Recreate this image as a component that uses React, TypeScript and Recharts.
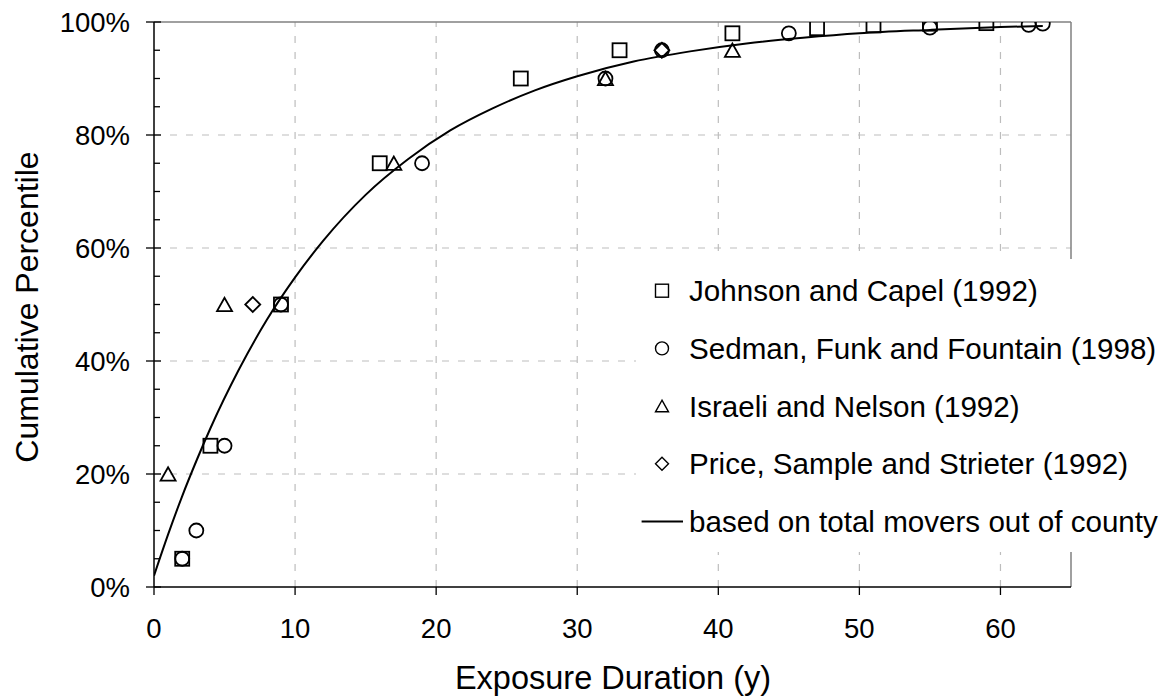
import React from 'react';
import { ComposedChart, XAxis, YAxis, Scatter, Line, ReferenceLine, Legend, Label } from 'recharts';

// values
const xTicks = [0, 10, 20, 30, 40, 50, 60];
const yTicks = [0, 5, 10, 15, 20, 25, 30, 35, 40, 45, 50, 55, 60, 65, 70, 75, 80, 85, 90, 95, 100];
const xGrid = [10, 20, 30, 40, 50, 60];
const yGrid = [20, 40, 60, 80];

const johnsonCapel = [[2, 5], [4, 25], [9, 50], [16, 75], [26, 90], [33, 95], [41, 98], [47, 98.9], [51, 99.4], [55, 99.7], [59, 99.8]];
const sedman = [[2, 5], [3, 10], [5, 25], [9, 50], [19, 75], [32, 90], [36, 95], [45, 98], [55, 99], [62, 99.5], [63, 99.7]];
const israeli = [[1, 20], [5, 50], [17, 75], [32, 90], [41, 95]];
const price = [[7, 50], [36, 95]];
const totalMovers = [
  [0, 2], [1, 9.3], [2, 16.1], [3, 22.3], [4, 28.1], [6, 38.4], [8, 47.3], [10, 54.8], [12, 61.3], [15, 69.4],
  [18, 75.7], [21, 80.8], [24, 84.7], [27, 87.9], [30, 90.4], [34, 93], [38, 94.8], [42, 96.2], [46, 97.2],
  [50, 98], [55, 98.6], [60, 99.1], [63, 99.3],
];

const toPts = (arr: number[][]) => arr.map(([x, y]) => ({ x, y }));

const FONT = '"Liberation Sans", Arial, sans-serif';

const Square = ({ cx, cy, s = 7, w = 1.8 }: any) => (
  <rect x={cx - s} y={cy - s} width={s * 2} height={s * 2} fill="none" stroke="#000" strokeWidth={w} />
);
const Circle = ({ cx, cy, s = 7, w = 1.8 }: any) => <circle cx={cx} cy={cy} r={s} fill="none" stroke="#000" strokeWidth={w} />;
const Triangle = ({ cx, cy, s = 7.5, w = 1.8 }: any) => (
  <polygon points={`${cx},${cy - s * 0.9} ${cx - s},${cy + s * 0.88} ${cx + s},${cy + s * 0.88}`} fill="none" stroke="#000" strokeWidth={w} />
);
const Diamond = ({ cx, cy, s = 7.5, w = 1.8 }: any) => (
  <polygon points={`${cx},${cy - s} ${cx + s},${cy} ${cx},${cy + s} ${cx - s},${cy}`} fill="none" stroke="#000" strokeWidth={w} />
);

const legendItems = [
  { name: 'Johnson and Capel (1992)', Shape: Square },
  { name: 'Sedman, Funk and Fountain (1998)', Shape: Circle },
  { name: 'Israeli and Nelson (1992)', Shape: Triangle },
  { name: 'Price, Sample and Strieter (1992)', Shape: Diamond },
  { name: 'based on total movers out of county', Shape: null },
];

const LegendBox = () => (
  <svg width={528} height={293} style={{ display: 'block' }}>
    {legendItems.map((it, i) => {
      const cy = 31.7 + i * 57.7;
      const S = it.Shape;
      return (
        <g key={it.name}>
          {S ? <S cx={26} cy={cy} s={6.5} w={1.4} /> : <line x1={5.6} x2={47} y1={cy} y2={cy} stroke="#000" strokeWidth={1.8} />}
          <text x={53} y={cy + 10.6} fontSize={29.6} fontFamily={FONT} fill="#000">
            {it.name}
          </text>
        </g>
      );
    })}
  </svg>
);

const YTick = ({ x, y, payload }: any) => {
  const major = payload.value % 20 === 0;
  return (
    <g>
      <line x1={major ? x - 8 : x} x2={major ? x + 7 : x + 6} y1={y} y2={y} stroke="#000" strokeWidth={1.3} />
      {major && (
        <text x={x - 24} y={y + 9.8} textAnchor="end" fontSize={27.5} fontFamily={FONT} fill="#000">
          {payload.value}%
        </text>
      )}
    </g>
  );
};

const XTick = ({ x, y, payload }: any) => (
  <g>
    <line x1={x} x2={x} y1={y} y2={y + 8} stroke="#000" strokeWidth={1.3} />
    <text x={x} y={y + 51} textAnchor="middle" fontSize={27.5} fontFamily={FONT} fill="#000">
      {payload.value}
    </text>
  </g>
);

export default function App() {
  return (
    <div style={{ position: 'absolute', left: 0, top: 0, width: 1164, height: 700, background: '#fff', fontFamily: FONT }}>
      <ComposedChart width={1164} height={700} margin={{ top: 22, right: 93, bottom: 0, left: 0 }}>
        <XAxis
          type="number"
          dataKey="x"
          domain={[0, 65]}
          ticks={xTicks}
          interval={0}
          allowDataOverflow
          height={113}
          tickSize={0}
          tickMargin={0}
          tick={<XTick />}
          axisLine={{ stroke: '#000', strokeWidth: 1.5 }}
        >
          <Label
            content={() => (
              <text x={613} y={689} textAnchor="middle" fontSize={32.5} fontFamily={FONT} fill="#000">
                Exposure Duration (y)
              </text>
            )}
          />
        </XAxis>
        <YAxis
          type="number"
          dataKey="y"
          domain={[0, 100]}
          ticks={yTicks}
          interval={0}
          allowDataOverflow
          width={154}
          tickSize={0}
          tickMargin={0}
          tick={<YTick />}
          axisLine={{ stroke: '#000', strokeWidth: 1.5 }}
        >
          <Label
            content={() => (
              <text x={38} y={307} transform="rotate(-90 38 307)" textAnchor="middle" fontSize={32} fontFamily={FONT} fill="#000">
                Cumulative Percentile
              </text>
            )}
          />
        </YAxis>
        {xGrid.map((v) => (
          <ReferenceLine key={'gx' + v} x={v} stroke="#bdbdbd" strokeDasharray="7 9" strokeWidth={1.2} />
        ))}
        {yGrid.map((v) => (
          <ReferenceLine key={'gy' + v} y={v} stroke="#bdbdbd" strokeDasharray="7 9" strokeWidth={1.2} />
        ))}
        <ReferenceLine y={100} stroke="#808080" strokeWidth={1.5} />
        <ReferenceLine x={65} stroke="#808080" strokeWidth={1.5} />
        <Line
          data={toPts(totalMovers)}
          dataKey="y"
          type="monotone"
          stroke="#000"
          strokeWidth={2}
          dot={false}
          activeDot={false}
          isAnimationActive={false}
          name="based on total movers out of county"
        />
        <Scatter data={toPts(johnsonCapel)} name="Johnson and Capel (1992)" shape={(p: any) => <Square cx={p.cx} cy={p.cy} />} isAnimationActive={false} />
        <Scatter data={toPts(sedman)} name="Sedman, Funk and Fountain (1998)" shape={(p: any) => <Circle cx={p.cx} cy={p.cy} />} isAnimationActive={false} />
        <Scatter data={toPts(israeli)} name="Israeli and Nelson (1992)" shape={(p: any) => <Triangle cx={p.cx} cy={p.cy} />} isAnimationActive={false} />
        <Scatter data={toPts(price)} name="Price, Sample and Strieter (1992)" shape={(p: any) => <Diamond cx={p.cx} cy={p.cy} />} isAnimationActive={false} />
        <Legend
          layout="vertical"
          align="center"
          verticalAlign="middle"
          wrapperStyle={{ left: 636, top: 259, width: 528, height: 293, background: '#fff' }}
          content={() => <LegendBox />}
        />
      </ComposedChart>
    </div>
  );
}
